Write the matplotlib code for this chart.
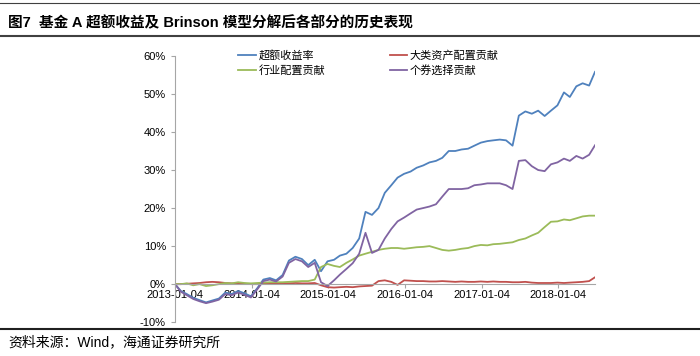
import numpy as np
import pandas as pd
import matplotlib
matplotlib.use('Agg')
import matplotlib.pyplot as plt
import matplotlib.dates as mdates
from matplotlib.ticker import FuncFormatter

plt.rcParams['font.family'] = ['Liberation Sans', 'Noto Sans CJK SC', 'DejaVu Sans']

# 月度取值（%），读自原图
dates = list(pd.date_range('2013-01-01', '2018-06-01', freq='MS'))
dates[0] = pd.Timestamp('2013-01-04')
dates.append(pd.Timestamp('2018-06-29'))

excess = [0, -1.8, -2.6, -3.6, -4.2, -4.8, -4.3, -3.8, -2.2, -2.6, -1.8, -2.4,
          -3.2, -1.0, 1.2, 1.6, 1.0, 2.4, 6.2, 7.2, 6.6, 5.0, 6.4, 3.4,
          6.0, 6.4, 7.5, 8.0, 9.5, 12.0, 19.0, 18.2, 20.0, 24.0, 26.0, 28.0,
          29.0, 29.6, 30.6, 31.2, 32.0, 32.4, 33.2, 35.0, 35.0, 35.4, 35.6, 36.4,
          37.2, 37.6, 37.8, 38.0, 37.8, 36.4, 44.3, 45.4, 44.8, 45.6, 44.2, 45.6,
          47.0, 50.4, 49.2, 52.0, 52.8, 52.2, 55.8]
asset = [0, 0, 0.1, 0.2, 0.3, 0.5, 0.6, 0.5, 0.3, 0.2, 0.1, 0.1,
         0, 0, 0.1, 0.1, 0.2, 0.2, 0.2, 0.3, 0.2, 0.2, 0.3, -0.3,
         -0.8, -0.9, -0.8, -0.7, -0.8, -0.6, -0.5, -0.4, 0.8, 1.0, 0.6, -0.2,
         1.0, 0.9, 0.8, 0.8, 0.7, 0.7, 0.8, 0.7, 0.6, 0.7, 0.6, 0.6,
         0.7, 0.6, 0.7, 0.6, 0.6, 0.5, 0.5, 0.6, 0.4, 0.3, 0.3, 0.3,
         0.4, 0.3, 0.4, 0.5, 0.6, 0.8, 1.8]
industry = [0, 0, 0.2, -0.3, 0, -0.5, -0.3, 0, 0.3, 0.2, 0.5, 0.3,
            0.2, 0.3, 0.4, 0.5, 0.5, 0.5, 0.6, 0.7, 0.8, 0.8, 1.2, 4.5,
            5.3, 4.8, 4.5, 5.6, 6.5, 7.5, 8.0, 8.5, 9.0, 9.3, 9.5, 9.5,
            9.3, 9.5, 9.7, 9.8, 10.0, 9.5, 9.0, 8.8, 9.0, 9.3, 9.5, 10.0,
            10.3, 10.2, 10.5, 10.6, 10.8, 11.0, 11.6, 12.0, 12.8, 13.5, 15.0, 16.4,
            16.5, 17.0, 16.8, 17.3, 17.8, 18.0, 18.0]
stock = [0, -2.0, -2.9, -3.9, -4.5, -5.0, -4.6, -4.1, -2.6, -2.9, -2.2, -2.8,
         -3.5, -1.3, 0.8, 1.2, 0.7, 2.0, 5.6, 6.6, 6.0, 4.5, 5.6, 0.5,
         -0.5, 1.0, 2.5, 4.0, 5.5, 8.0, 13.5, 8.2, 9.0, 12.0, 14.5, 16.5,
         17.5, 18.6, 19.6, 20.0, 20.4, 21.0, 23.0, 25.0, 25.0, 25.0, 25.2, 26.0,
         26.2, 26.5, 26.5, 26.5, 26.0, 25.0, 32.4, 32.6, 31.0, 30.0, 29.7, 31.5,
         32.0, 33.0, 32.4, 33.7, 33.0, 34.0, 36.5]

names = ['超额收益率', '大类资产配置贡献', '行业配置贡献', '个券选择贡献']
colors = ['#4F81BD', '#C0504D', '#9BBB59', '#8064A2']
tick_dates = pd.to_datetime(['2013-01-04', '2014-01-04', '2015-01-04',
                             '2016-01-04', '2017-01-04', '2018-01-04'])

fig = plt.figure(figsize=(7, 3.56), dpi=100)
ax = fig.add_axes([0.25, 0.095, 0.60, 0.748])

lines = []
for vals, name, c in zip([excess, asset, industry, stock], names, colors):
    ln, = ax.plot(dates, vals, color=c, lw=1.3, label=name)
    lines.append(ln)

ax.set_ylim(-10, 60)
ax.set_yticks(np.arange(-10, 61, 10))
ax.yaxis.set_major_formatter(FuncFormatter(lambda v, p: f'{v:.0f}%'))
ax.set_xlim(dates[0], dates[-1])
ax.set_xticks(tick_dates)
ax.xaxis.set_major_formatter(mdates.DateFormatter('%Y-%m-%d'))

# x轴放在0%处
for s in ['top', 'right']:
    ax.spines[s].set_visible(False)
ax.spines['left'].set_color('#A6A6A6')
ax.spines['bottom'].set_position(('data', 0))
ax.spines['bottom'].set_color('#A6A6A6')
ax.tick_params(axis='both', colors='#A6A6A6', labelcolor='black', labelsize=8,
               length=3, width=0.8)
ax.tick_params(axis='x', pad=1)

# 图例按行排列：第一行 超额收益率/大类资产，第二行 行业/个券
order = [0, 2, 1, 3]
ax.legend([lines[i] for i in order], [names[i] for i in order],
          loc='upper left', bbox_to_anchor=(0.127, 1.06), ncol=2, frameon=False,
          handlelength=1.6, handletextpad=0.2, columnspacing=5.8,
          labelspacing=0.35, prop={'family': ['Noto Sans CJK SC'], 'size': 8})

# 标题和来源
fig.text(0.012, 0.935, '图7  基金 A 超额收益及 Brinson 模型分解后各部分的历史表现',
         fontsize=10.5, fontweight='bold', va='center', ha='left')
fig.text(0.012, 0.04, '资料来源：Wind，海通证券研究所', fontsize=10, va='center', ha='left')
fig.add_artist(plt.Line2D([0, 1], [0.992, 0.992], color='#404040', lw=0.8))
fig.add_artist(plt.Line2D([0, 1], [0.900, 0.900], color='#404040', lw=1.5))
fig.add_artist(plt.Line2D([0, 1], [0.076, 0.076], color='#202020', lw=1.5))

fig.savefig('out.png', dpi=100)
